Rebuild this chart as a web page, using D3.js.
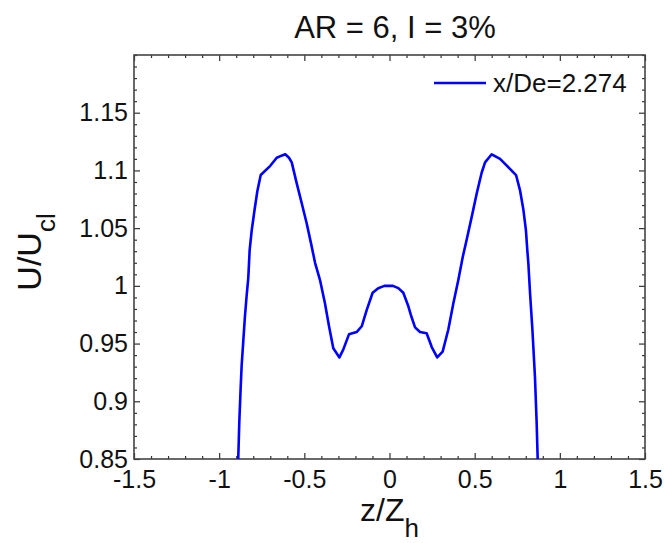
<!DOCTYPE html>
<html>
<head>
<meta charset="utf-8">
<script src="https://cdn.jsdelivr.net/npm/d3@7/dist/d3.min.js"></script>
<style>
  html, body { margin: 0; padding: 0; background: #fff; }
  svg { display: block; font-family: Arial, "Liberation Sans", sans-serif; }
</style>
</head>
<body>
<svg id="chart" width="665" height="543"></svg>
<script>
// Normalised streamwise velocity profile across the span
const zPos = [
  -0.892, -0.888, -0.882, -0.874, -0.868, -0.858, -0.849, -0.839, -0.829, -0.821,
  -0.809, -0.794, -0.776, -0.756, -0.700, -0.662, -0.630, -0.612, -0.590, -0.574,
  -0.545, -0.516, -0.486, -0.461, -0.437, -0.408, -0.379, -0.355, -0.330, -0.294,
  -0.271, -0.238, -0.193, -0.163, -0.134, -0.099, -0.066, -0.030, -0.007, 0.020,
  0.052, 0.081, 0.109, 0.125, 0.150, 0.179, 0.218, 0.248, 0.280, 0.312,
  0.345, 0.375, 0.404, 0.430, 0.453, 0.483, 0.512, 0.541, 0.561, 0.600,
  0.649, 0.743, 0.766, 0.786, 0.801, 0.809, 0.815, 0.825, 0.839, 0.854,
  0.864, 0.870, 0.873
];
const uRatio = [
  0.830, 0.850, 0.881, 0.911, 0.931, 0.953, 0.973, 0.991, 1.007, 1.031,
  1.048, 1.064, 1.082, 1.096, 1.104, 1.111, 1.113, 1.114, 1.111, 1.107,
  1.089, 1.072, 1.054, 1.037, 1.020, 1.005, 0.985, 0.965, 0.946, 0.938,
  0.945, 0.958, 0.960, 0.965, 0.979, 0.994, 0.998, 1.000, 1.000, 1.000,
  0.998, 0.994, 0.983, 0.975, 0.964, 0.960, 0.959, 0.947, 0.938, 0.943,
  0.962, 0.985, 1.005, 1.025, 1.040, 1.060, 1.080, 1.098, 1.107, 1.114,
  1.110, 1.096, 1.083, 1.066, 1.048, 1.031, 1.020, 0.994, 0.962, 0.921,
  0.881, 0.850, 0.830
];
const seriesName = "x/De=2.274";

const xMajorTicks = [-1.5, -1, -0.5, 0, 0.5, 1, 1.5];
const xTickLabels = ["-1.5", "-1", "-0.5", "0", "0.5", "1", "1.5"];
const yMajorTicks = [0.85, 0.9, 0.95, 1, 1.05, 1.1, 1.15];
const yTickLabels = ["0.85", "0.9", "0.95", "1", "1.05", "1.1", "1.15"];

const xDomain = [-1.5, 1.5];
const yDomain = [0.85, 1.2];

const svg = d3.select("#chart");
const m = { left: 134, right: 645, top: 55, bottom: 459 };

const x = d3.scaleLinear().domain(xDomain).range([m.left, m.right]);
const y = d3.scaleLinear().domain(yDomain).range([m.bottom, m.top]);

// minor tick positions
const xMinor = d3.range(-15, 16).map(d => d / 10).filter(v => !xMajorTicks.some(t => Math.abs(t - v) < 1e-9));
const yMinor = d3.range(85, 121).map(d => d / 100).filter(v => !yMajorTicks.some(t => Math.abs(t - v) < 1e-9));

const tickColor = "#333";
const majorLen = 6, minorLen = 3;

function styleAxis(g) {
  g.select(".domain").remove();
  g.selectAll(".tick line").attr("stroke", tickColor).attr("stroke-width", 1.2);
  g.selectAll(".tick text").attr("fill", "#111").attr("font-size", 25)
    .attr("font-family", "Arial, 'Liberation Sans', sans-serif");
}

// bottom axis with labels
svg.append("g").attr("transform", `translate(0,${m.bottom})`)
  .call(d3.axisBottom(x).tickValues(xMajorTicks).tickFormat((d, i) => xTickLabels[i])
    .tickSizeInner(-majorLen).tickSizeOuter(0).tickPadding(11))
  .call(styleAxis);
svg.append("g").attr("transform", `translate(0,${m.bottom})`)
  .call(d3.axisBottom(x).tickValues(xMinor).tickFormat("").tickSizeInner(-minorLen).tickSizeOuter(0))
  .call(styleAxis);
// top mirrored ticks
svg.append("g").attr("transform", `translate(0,${m.top})`)
  .call(d3.axisTop(x).tickValues(xMajorTicks).tickFormat("").tickSizeInner(-majorLen).tickSizeOuter(0))
  .call(styleAxis);
svg.append("g").attr("transform", `translate(0,${m.top})`)
  .call(d3.axisTop(x).tickValues(xMinor).tickFormat("").tickSizeInner(-minorLen).tickSizeOuter(0))
  .call(styleAxis);

// left axis with labels
svg.append("g").attr("transform", `translate(${m.left},0)`)
  .call(d3.axisLeft(y).tickValues(yMajorTicks).tickFormat((d, i) => yTickLabels[i])
    .tickSizeInner(-majorLen).tickSizeOuter(0).tickPadding(6))
  .call(styleAxis);
svg.append("g").attr("transform", `translate(${m.left},0)`)
  .call(d3.axisLeft(y).tickValues(yMinor).tickFormat("").tickSizeInner(-minorLen).tickSizeOuter(0))
  .call(styleAxis);
// right mirrored ticks
svg.append("g").attr("transform", `translate(${m.right},0)`)
  .call(d3.axisRight(y).tickValues(yMajorTicks).tickFormat("").tickSizeInner(-majorLen).tickSizeOuter(0))
  .call(styleAxis);
svg.append("g").attr("transform", `translate(${m.right},0)`)
  .call(d3.axisRight(y).tickValues(yMinor).tickFormat("").tickSizeInner(-minorLen).tickSizeOuter(0))
  .call(styleAxis);

// plot frame
svg.append("rect")
  .attr("x", m.left).attr("y", m.top)
  .attr("width", m.right - m.left).attr("height", m.bottom - m.top)
  .attr("fill", "none").attr("stroke", "#444").attr("stroke-width", 1.6);

// clip the profile to the plotting area
svg.append("clipPath").attr("id", "plotClip")
  .append("rect")
  .attr("x", m.left).attr("y", m.top)
  .attr("width", m.right - m.left).attr("height", m.bottom - m.top);

const pts = zPos.map((z, i) => [z, uRatio[i]]);
const line = d3.line().x(d => x(d[0])).y(d => y(d[1]));

svg.append("path")
  .datum(pts)
  .attr("clip-path", "url(#plotClip)")
  .attr("d", line)
  .attr("fill", "none")
  .attr("stroke", "#0000ff")
  .attr("stroke-width", 2.6)
  .attr("stroke-linejoin", "round");

// legend
svg.append("line")
  .attr("x1", 434).attr("x2", 486).attr("y1", 83).attr("y2", 83)
  .attr("stroke", "#0000ff").attr("stroke-width", 2.6);
svg.append("text")
  .attr("x", 493).attr("y", 92)
  .attr("font-size", 26).attr("fill", "#111")
  .text(seriesName);

// title
svg.append("text")
  .attr("x", 395).attr("y", 38)
  .attr("text-anchor", "middle")
  .attr("font-size", 31).attr("fill", "#111")
  .text("AR = 6, I = 3%");

// x axis label z/Z_h
const xl = svg.append("text")
  .attr("x", (m.left + m.right) / 2).attr("y", 521)
  .attr("text-anchor", "middle")
  .attr("font-size", 32).attr("fill", "#111");
xl.append("tspan").text("z/Z");
xl.append("tspan").attr("dy", 16).attr("font-size", 26).text("h");

// y axis label U/U_cl
const yl = svg.append("text")
  .attr("transform", "translate(41,252) rotate(-90)")
  .attr("text-anchor", "middle")
  .attr("font-size", 34).attr("fill", "#111");
yl.append("tspan").text("U/U");
yl.append("tspan").attr("dy", 14).attr("font-size", 26).text("cl");
</script>
</body>
</html>
